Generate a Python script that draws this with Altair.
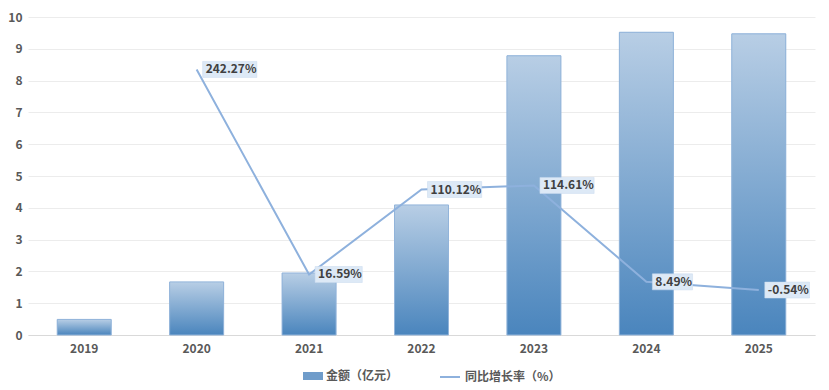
import altair as alt
import pandas as pd

years = ["2019", "2020", "2021", "2022", "2023", "2024", "2025"]
amount = [0.49, 1.67, 1.95, 4.09, 8.78, 9.52, 9.47]
growth = [None, 242.27, 16.59, 110.12, 114.61, 8.49, -0.54]

FONT = "Noto Sans CJK SC"
CW = {"%": 10.0, ".": 3.2, "-": 4.5}


def label_of(g):
    return f"{g:.2f}%"


def box_path(text):
    w = sum(CW.get(c, 7.0) for c in text) + 6
    x0, x1 = 0.6, (6 + w) / 10.0
    return f"M{x0},-0.8 L{x1:.2f},-0.8 L{x1:.2f},0.8 L{x0},0.8 Z"


rows = []
for y, a, g in zip(years, amount, growth):
    lab = label_of(g) if g is not None else ""
    rows.append({
        "year": y, "amount": a, "growth": g, "label": lab,
        "box": box_path(lab) if g is not None else "",
        "s1": "金额（亿元）", "s2": "同比增长率（%）",
    })
df = pd.DataFrame(rows)

xenc = alt.X("year:N", sort=years, title=None,
             scale=alt.Scale(paddingInner=0, paddingOuter=0),
             axis=alt.Axis(labelAngle=0, ticks=False, domainColor="#d9d9d9", grid=False,
                           labelPadding=8, labelFontSize=12, labelFontWeight="bold",
                           labelColor="#595959", labelFont=FONT))

yscale = alt.Scale(domain=[0, 10], nice=False)
gscale = alt.Scale(domain=[-50, 300], nice=False)

base = alt.Chart(df)

bar_proxy = base.mark_bar(size=54).encode(
    x=xenc,
    y=alt.Y("amount:Q", scale=yscale, title=None,
            axis=alt.Axis(values=[0, 1, 2, 3, 4, 5, 6, 7, 8, 9, 10], ticks=False, domain=False,
                          grid=True, gridColor="#ececec", labelPadding=6, labelFontSize=12,
                          labelOverlap=False,
                          labelFontWeight="bold", labelColor="#595959", labelFont=FONT)),
    color=alt.Color("s1:N", scale=alt.Scale(range=["#6f9cca"]),
                    legend=alt.Legend(orient="none", legendX=275, legendY=349, title=None,
                                      symbolType="M-1,-0.4 L1,-0.4 L1,0.4 L-1,0.4 Z",
                                      symbolSize=400, labelFontSize=12, labelFontWeight="bold",
                                      labelColor="#595959", labelFont=FONT, labelOffset=3,
                                      symbolStrokeWidth=0)),
)

bar_grad = base.mark_bar(
    size=54,
    stroke="#92b4da",
    strokeWidth=1,
    fill=alt.Gradient(gradient="linear",
                      stops=[alt.GradientStop(color="#b8cee5", offset=0),
                             alt.GradientStop(color="#4a85bd", offset=1)],
                      x1=0, x2=0, y1=0, y2=1),
).encode(
    x=alt.X("year:N", sort=years),
    y=alt.Y("amount:Q", scale=yscale, axis=None),
)

gbase = base.transform_filter("isValid(datum.growth)")

line = gbase.mark_line(strokeWidth=2).encode(
    x=alt.X("year:N", sort=years),
    y=alt.Y("growth:Q", scale=gscale, axis=None),
    color=alt.Color("s2:N", scale=alt.Scale(range=["#8eb1dd"]),
                    legend=alt.Legend(orient="none", legendX=411, legendY=349, title=None,
                                      symbolType="stroke", symbolSize=400,
                                      symbolStrokeWidth=2, labelFontSize=12,
                                      labelFontWeight="bold", labelColor="#595959",
                                      labelFont=FONT, labelOffset=4)),
)

boxes = gbase.mark_point(filled=True, size=400, opacity=1, fill="#dde9f6",
                         stroke="#c9dbef", strokeWidth=0.5).encode(
    x=alt.X("year:N", sort=years),
    y=alt.Y("growth:Q", scale=gscale, axis=None),
    shape=alt.Shape("box:N", scale=None, legend=None),
)

texts = gbase.mark_text(align="left", baseline="middle", dx=9, dy=0, fontSize=12,
                        fontWeight="bold", color="#404040", font=FONT).encode(
    x=alt.X("year:N", sort=years),
    y=alt.Y("growth:Q", scale=gscale, axis=None),
    text="label:N",
)

chart = alt.layer(bar_proxy, bar_grad, line, boxes, texts).resolve_scale(
    y="independent", color="independent"
).properties(
    width=787, height=318,
    padding={"left": 20, "top": 9, "right": 6, "bottom": 55},
    autosize=alt.AutoSizeParams(type="none"),
).configure_view(stroke=None)

chart.save("out.html", embed_options={"renderer": "svg", "actions": False})
